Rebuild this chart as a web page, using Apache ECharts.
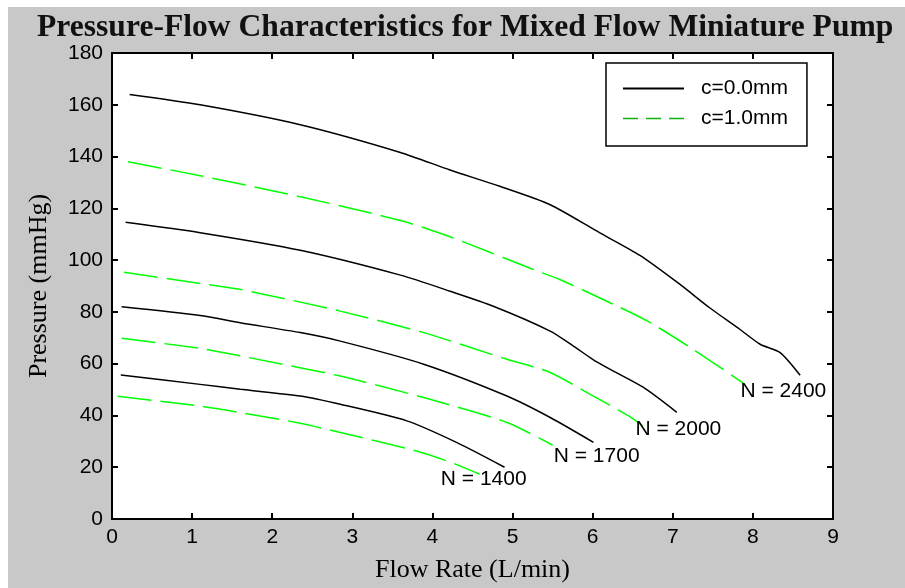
<!DOCTYPE html>
<html><head><meta charset="utf-8">
<script src="https://cdn.jsdelivr.net/npm/echarts@6/dist/echarts.min.js"></script>
<style>html,body{margin:0;padding:0;background:#fff}#c{width:905px;height:588px}</style>
</head><body><div id="c"></div>
<script>
// ---- data (flow rate L/min, pressure mmHg) ----
const q2400_c0 = [0.22, 1.1, 2.35, 3.6, 4.22, 4.84, 5.47, 6.09, 6.59, 7.09, 7.46, 7.84, 8.09, 8.34, 8.59];
const p2400_c0 = [164, 160, 152.3, 141.6, 134.8, 128.5, 121.4, 110.5, 101.8, 90.6, 81.6, 73.2, 67.5, 64.3, 55.5];
const q2400_c1 = [0.2, 1.1, 2.35, 3.6, 4.22, 5.26, 5.59, 6.13, 6.68, 7.22, 7.88];
const p2400_c1 = [138, 132.6, 124.5, 115.3, 109, 96.4, 92.5, 84.8, 76.5, 66.2, 52.5];
const q2000_c0 = [0.17, 1.1, 2.35, 3.6, 4.22, 4.76, 5.47, 5.76, 6.0, 6.22, 6.63, 7.05];
const p2000_c0 = [114.6, 110.6, 103.8, 94.2, 88, 82.2, 72.6, 66.8, 61.7, 57.8, 50.9, 41.2];
const q2000_c1 = [0.15, 1.1, 1.6, 2.85, 3.89, 4.93, 5.47, 5.93, 6.45, 6.62];
const p2000_c1 = [95.3, 91, 88.7, 80.3, 72, 61.7, 56.6, 48.8, 39.8, 36];
const q1700_c0 = [0.12, 1.1, 1.6, 2.35, 2.85, 3.89, 4.93, 5.47, 6.01];
const p1700_c0 = [82, 78.6, 75.8, 72, 68.7, 59.8, 47.5, 39.2, 29.6];
const q1700_c1 = [0.12, 1.1, 1.6, 2.85, 3.89, 4.93, 5.5];
const p1700_c1 = [69.8, 65.9, 63, 55.2, 46.9, 37.3, 28.5];
const q1400_c0 = [0.11, 1.1, 1.6, 2.35, 2.85, 3.68, 4.3, 4.9];
const p1400_c0 = [55.6, 52, 50.1, 47.5, 44.3, 37.9, 29.6, 20];
const q1400_c1 = [0.07, 1.1, 1.6, 2.35, 2.85, 3.8, 4.22, 4.59];
const p1400_c1 = [47.4, 43.6, 41.1, 37, 33.4, 26.3, 22, 17.3];

const labelTexts = ['N = 1400', 'N = 1700', 'N = 2000', 'N = 2400'];
const labelX = [4.64, 6.05, 7.07, 8.38];
const labelY = [15.4, 24.3, 34.7, 49.3];

const legendNames = ['c=0.0mm', 'c=1.0mm'];
const titleText = 'Pressure-Flow Characteristics for Mixed Flow Miniature Pump';
const xName = 'Flow Rate (L/min)';
const yName = 'Pressure (mmHg)';

// ---- build ----
const zip = (a, b) => a.map((v, i) => [v, b[i]]);
const curves = [
  [q2400_c0, p2400_c0, 0], [q2400_c1, p2400_c1, 1],
  [q2000_c0, p2000_c0, 0], [q2000_c1, p2000_c1, 1],
  [q1700_c0, p1700_c0, 0], [q1700_c1, p1700_c1, 1],
  [q1400_c0, p1400_c0, 0], [q1400_c1, p1400_c1, 1]
];
const GREEN = '#00ff00';
const series = curves.map(([q, p, k]) => ({
  type: 'line', name: legendNames[k], data: zip(q, p),
  symbol: 'none', smooth: 0.25, silent: true, z: 3,
  lineStyle: k === 0 ? {color: '#000', width: 1.5, type: 'solid'}
                     : {color: GREEN, width: 1.5, type: [34, 9]},
  itemStyle: {color: k === 0 ? '#000' : GREEN}
}));
series.push({
  type: 'scatter', name: 'labels', symbolSize: 0, silent: true, z: 5,
  itemStyle: {opacity: 1, color: '#000'},
  data: labelX.map((x, i) => ({value: [x, labelY[i]], name: labelTexts[i]})),
  label: {show: true, position: 'inside', formatter: p => p.name, opacity: 1,
          fontFamily: 'Liberation Sans', fontSize: 21, color: '#000',
          textBorderWidth: 0, textShadowBlur: 0}
});

const axisCommon = {
  axisLine: {show: true, onZero: false, lineStyle: {color: '#000', width: 2}},
  axisTick: {show: true, inside: true, length: 6, lineStyle: {color: '#000', width: 2}},
  splitLine: {show: false}
};
const lblStyle = {fontFamily: 'Liberation Sans', fontSize: 21, color: '#000'};
const nameStyle = {fontFamily: 'Liberation Serif', fontSize: 26, color: '#000'};

const option = {
  animation: false,
  backgroundColor: '#fff',
  graphic: [{type: 'rect', left: 8, top: 7, shape: {width: 897, height: 581}, style: {fill: '#c8c8c8'}, z: -10, silent: true}],
  title: {text: titleText, left: 32, top: 7,
          textStyle: {fontFamily: 'Liberation Serif', fontWeight: 'bold', fontSize: 31.6, color: '#111'}},
  grid: {left: 112, top: 53, right: 72, bottom: 68, show: true, backgroundColor: '#fff', borderWidth: 0},
  legend: {
    data: [
      {name: legendNames[0], itemStyle: {opacity: 0}},
      {name: legendNames[1], itemStyle: {opacity: 0}, lineStyle: {color: '#10b010', type: [15, 8], width: 1.5}}
    ],
    itemStyle: {opacity: 0},
    left: 606, top: 63, orient: 'vertical',
    backgroundColor: '#fff', borderColor: '#000', borderWidth: 1.5, borderRadius: 0,
    padding: [15, 19, 17, 16], itemWidth: 61, itemHeight: 14, itemGap: 9,
    textStyle: {fontFamily: 'Liberation Sans', fontSize: 21, color: '#000', lineHeight: 20, padding: [0, 0, 0, 12]},
    selectedMode: false
  },
  xAxis: [
    Object.assign({type: 'value', min: 0, max: 9, interval: 1, position: 'bottom',
      axisLabel: Object.assign({margin: 8}, lblStyle),
      name: xName, nameLocation: 'middle', nameGap: 38, nameTextStyle: nameStyle}, axisCommon),
    Object.assign({type: 'value', min: 0, max: 9, interval: 1, position: 'top',
      axisLabel: {show: false}}, axisCommon)
  ],
  yAxis: [
    Object.assign({type: 'value', min: 0, max: 180, interval: 20, position: 'left',
      axisLabel: Object.assign({margin: 9}, lblStyle),
      name: yName, nameLocation: 'middle', nameGap: 60, nameTextStyle: nameStyle}, axisCommon),
    Object.assign({type: 'value', min: 0, max: 180, interval: 20, position: 'right',
      axisLabel: {show: false}}, axisCommon)
  ],
  series: series
};
const chart = echarts.init(document.getElementById('c'), null, {renderer: 'canvas'});
chart.setOption(option);
</script></body></html>
